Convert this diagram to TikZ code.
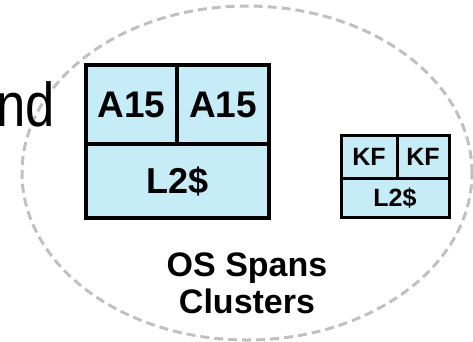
\documentclass[tikz,border=0pt]{standalone}
\usepackage{fontspec}
\setmainfont{Liberation Sans}
\usetikzlibrary{shapes.geometric}
\definecolor{cellblue}{RGB}{198,236,247}
\definecolor{ringgray}{RGB}{192,192,192}
\tikzset{
  cell/.style={draw=black, fill=cellblue, inner sep=0pt, anchor=center,
    font=\fontsize{#1}{#1}\selectfont\bfseries, text height={0.716*#1pt}, text depth=0pt},
  bigcell/.style={cell=#1, line width=3.5pt},
  smallcell/.style={cell=#1, line width=3pt},
  ring/.style={draw=ringgray, line width=3pt, dash pattern=on 9pt off 5pt},
}
\begin{document}
\begin{tikzpicture}[x=1pt,y=-1pt]
\useasboundingbox (0,0) rectangle (473,341);
% dashed ellipse
\node[ring, ellipse, inner sep=0pt, minimum width=450pt, minimum height=334pt] (os) at (247,173) {};
% cut-off word at left
\node[anchor=base east, inner sep=0pt, font=\fontsize{62}{62}\selectfont, xscale=0.85] (frag) at (55,126) {nd};
% big cluster
\node[bigcell=37, minimum width=91pt, minimum height=79pt] (a1) at (131.5,104.5) {A15};
\node[bigcell=37, minimum width=92pt, minimum height=79pt] (a2) at (223,104.5) {A15};
\node[bigcell=36, minimum width=183pt, minimum height=74pt] (l2a) at (177.5,181) {L2\$};
% small cluster
\node[smallcell=25, minimum width=56pt, minimum height=43pt] (k1) at (369,156.5) {KF};
\node[smallcell=25, minimum width=52pt, minimum height=43pt] (k2) at (423,156.5) {KF};
\node[smallcell=25, minimum width=108pt, minimum height=39pt] (l2b) at (395,197.5) {L2\$};
% caption
\node[align=center, inner sep=0pt, font=\fontsize{34}{37}\selectfont\bfseries, anchor=base] (cap) at (247,313) {OS Spans\\Clusters};
\end{tikzpicture}
\end{document}
